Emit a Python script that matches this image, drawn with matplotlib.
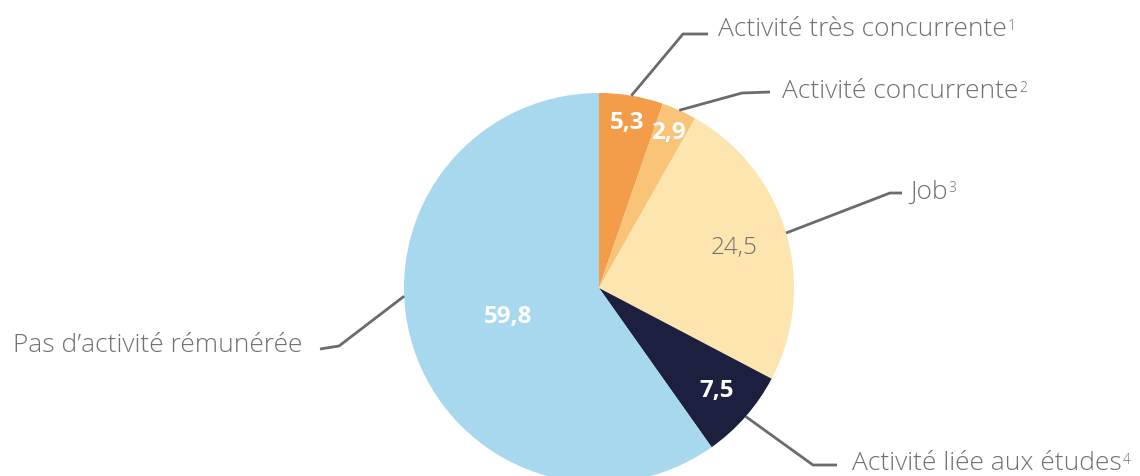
import numpy as np
import matplotlib
matplotlib.use("Agg")
import matplotlib.pyplot as plt

# Data
categories = ["Activité très concurrente", "Activité concurrente", "Job",
              "Activité liée aux études", "Pas d\u2019activité rémunérée"]
notes = ["1", "2", "3", "4", ""]
values = [5.3, 2.9, 24.5, 7.5, 59.8]
value_labels = ["5,3", "2,9", "24,5", "7,5", "59,8"]

colors = ["#F39C4A", "#F9C477", "#FDE5AF", "#1D1F3F", "#A8D8EE"]
value_colors = ["white", "white", "#707070", "white", "white"]
value_weights = ["bold", "bold", "light", "bold", "bold"]
value_radius = [0.86, 0.87, 0.72, 0.80, 0.49]

plt.rcParams["font.family"] = ["Open Sans", "DejaVu Sans"]

H = 476
cx, cy, R = 599, H - 288, 195

fig = plt.figure(figsize=(11.4, 4.76), dpi=100)
ax = fig.add_axes([0, 0, 1, 1])
wedges, _ = ax.pie(values, colors=colors, startangle=90, counterclock=False,
                   center=(cx, cy), radius=R, wedgeprops=dict(linewidth=0))
ax.set_xlim(0, 1140)
ax.set_ylim(0, H)
ax.set_aspect("equal")
ax.axis("off")

# value labels inside the wedges
for w, lab, c, wt, rf in zip(wedges, value_labels, value_colors, value_weights, value_radius):
    a = np.deg2rad((w.theta1 + w.theta2) / 2)
    ax.text(cx + rf * R * np.cos(a), cy + rf * R * np.sin(a), lab,
            ha="center", va="center", color=c, fontsize=17.5, fontweight=wt)

# leader lines: (edge angle override, elbow px, end px, text px, ha)
layout = [
    (None, (683, 34), (708, 34), (718, 29), "left"),
    (None, (742, 93), (770, 92), (782, 91), "left"),
    (None, (890, 193), (902, 193), (910, 192), "left"),
    (None, (813, 465), (837, 465), (852, 463), "left"),
    (182.4, (339, 346), (320, 349), (302, 346), "right"),
]
line_col = "#6B6B6B"
renderer = fig.canvas.get_renderer()
for w, cat, note, (ang, elb, end, tp, ha) in zip(wedges, categories, notes, layout):
    if ang is None:
        ang = (w.theta1 + w.theta2) / 2
    a = np.deg2rad(ang)
    x0, y0 = cx + R * np.cos(a), cy + R * np.sin(a)
    ax.plot([x0, elb[0], end[0]], [y0, H - elb[1], H - end[1]],
            color=line_col, lw=2, solid_capstyle="butt", zorder=3)
    t = ax.text(tp[0], H - tp[1], cat, ha=ha, va="center", fontsize=19,
                fontweight="light", color="#707070")
    if note:
        bb = t.get_window_extent(renderer)
        ax.text(bb.x1 + 1, bb.y1 - 2, note, ha="left", va="top", fontsize=10,
                fontweight="light", color="#707070")

fig.savefig("out.png", dpi=100)
